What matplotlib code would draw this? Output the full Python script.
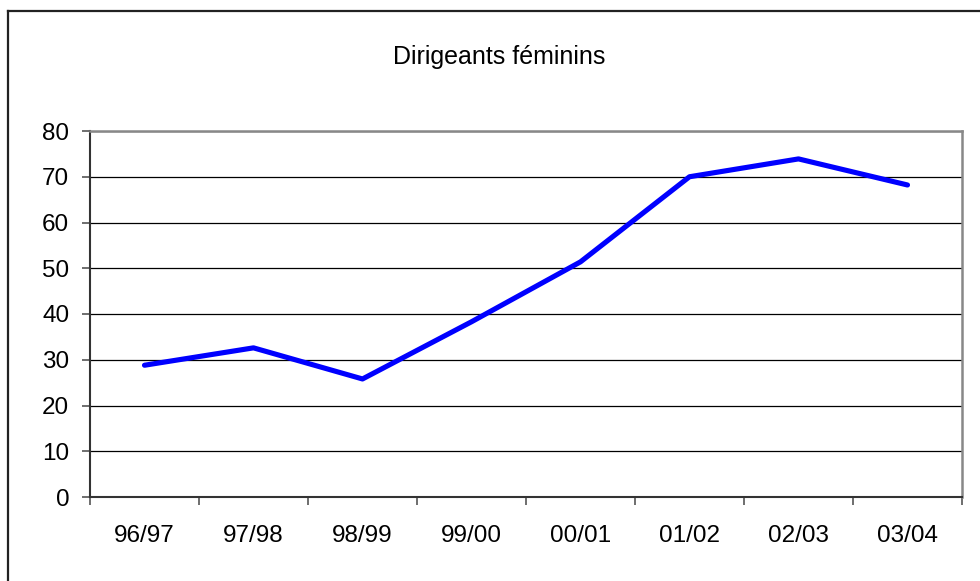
import matplotlib
matplotlib.use('Agg')
import matplotlib.pyplot as plt
from matplotlib.lines import Line2D

plt.rcParams['font.family'] = ['Liberation Sans', 'DejaVu Sans']

# données
saisons = ["96/97", "97/98", "98/99", "99/00", "00/01", "01/02", "02/03", "03/04"]
dirigeants = [28.8, 32.6, 25.8, 38.3, 51.4, 70.0, 73.9, 68.2]
y_ticks = [0, 10, 20, 30, 40, 50, 60, 70, 80]

W, H = 980, 581
fig = plt.figure(figsize=(W / 100, H / 100), dpi=100)

# cadre extérieur (gauche + haut)
fig.add_artist(Line2D([8 / W, 8 / W], [0, 1 - 11 / H], color="#222222", linewidth=1.6))
fig.add_artist(Line2D([8 / W, 1], [1 - 11 / H, 1 - 11 / H], color="#222222", linewidth=1.6))

left, right, bottom, top = 90 / W, 962 / W, (H - 497) / H, (H - 131) / H
ax = fig.add_axes([left, bottom, right - left, top - bottom])

x = list(range(len(saisons)))
ax.plot(x, dirigeants, color="#0000FF", linewidth=3.7, solid_capstyle="round", zorder=3)

ax.set_xlim(-0.5, len(saisons) - 0.5)
ax.set_ylim(0, 80)
ax.set_yticks(y_ticks)
ax.set_yticklabels([str(v) for v in y_ticks])
ax.yaxis.grid(True, color="black", linewidth=0.9)
ax.set_axisbelow(True)

# graduations aux frontières, étiquettes au centre des catégories
ax.set_xticks([i - 0.5 for i in range(len(saisons) + 1)])
ax.set_xticklabels([])
ax.set_xticks(x, minor=True)
ax.set_xticklabels(saisons, minor=True)
ax.tick_params(axis="x", which="major", length=6, width=1.2, color="#555555", direction="out")
ax.tick_params(axis="x", which="minor", length=0, pad=20, labelsize=17.5)
ax.tick_params(axis="y", length=6, width=1.2, color="#555555", pad=9, labelsize=17.5)

for s in ("left", "bottom"):
    ax.spines[s].set_color("#333333")
    ax.spines[s].set_linewidth(1.5)
for s in ("top", "right"):
    ax.spines[s].set_color("#888888")
    ax.spines[s].set_linewidth(1.8)

fig.text(499 / W, 1 - 57 / H, "Dirigeants féminins", ha="center", va="center", fontsize=18)

fig.savefig("out.png", dpi=100)
